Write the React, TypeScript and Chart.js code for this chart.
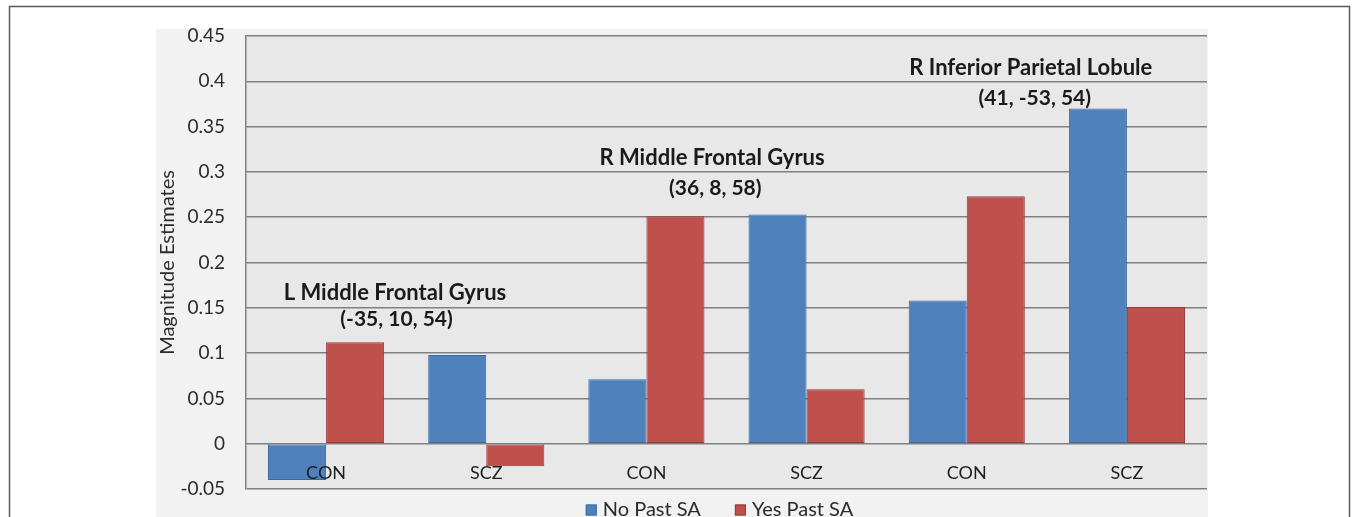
import React, { useEffect, useRef } from "react";
import { Chart, registerables } from "chart.js";

Chart.register(...registerables);

const categories = ["CON", "SCZ", "CON", "SCZ", "CON", "SCZ"];
const seriesNames = ["No Past SA", "Yes Past SA"];
const noPastSA = [-0.04, 0.098, 0.071, 0.253, 0.158, 0.37];
const yesPastSA = [0.112, -0.025, 0.251, 0.06, 0.273, 0.151];
const yTicks = [-0.05, 0, 0.05, 0.1, 0.15, 0.2, 0.25, 0.3, 0.35, 0.4, 0.45];
const yTickLabels = ["-0.05", "0", "0.05", "0.1", "0.15", "0.2", "0.25", "0.3", "0.35", "0.4", "0.45"];
const regionTexts = [
  "L Middle Frontal Gyrus",
  "(-35, 10, 54)",
  "R Middle Frontal Gyrus",
  "(36, 8, 58)",
  "R Inferior Parietal Lobule",
  "(41, -53, 54)",
];
// anchors in data units (category index, magnitude value)
const regionAnchorX = [0.43, 0.44, 2.41, 2.43, 4.4, 4.425];
const regionAnchorY = [0.166, 0.137, 0.315, 0.282, 0.415, 0.381];

const FONT = "Lato, 'Liberation Sans', sans-serif";

const backdrop = {
  id: "backdrop",
  beforeDraw(chart: any) {
    const { ctx, chartArea: a, width, height } = chart;
    ctx.save();
    ctx.fillStyle = "#ffffff";
    ctx.fillRect(0, 0, width, height);
    ctx.strokeStyle = "#5a5a5a";
    ctx.lineWidth = 1.5;
    ctx.strokeRect(9.5, 6.5, 1340, height + 10);
    ctx.fillStyle = "#f2f2f2";
    ctx.fillRect(a.left - 90, a.top - 7, a.right - a.left + 91, height - a.top + 7);
    ctx.fillStyle = "#e8e8e8";
    ctx.fillRect(a.left, a.top, a.right - a.left, a.bottom - a.top);
    ctx.restore();
  },
};

const regionLabels = {
  id: "regionLabels",
  afterDatasetsDraw(chart: any) {
    const { ctx, scales } = chart;
    ctx.save();
    ctx.fillStyle = "#1a1a1a";
    ctx.textAlign = "center";
    ctx.textBaseline = "middle";
    regionTexts.forEach((t, i) => {
      ctx.font = i % 2 === 0 ? `bold 22px ${FONT}` : `bold 21px ${FONT}`;
      const x = scales.x.getPixelForValue(regionAnchorX[i]);
      const y = scales.y.getPixelForValue(regionAnchorY[i]);
      ctx.fillText(t, x, y);
    });
    ctx.restore();
  },
};

const bottomLegend = {
  id: "bottomLegend",
  afterDraw(chart: any) {
    const { ctx, chartArea: a } = chart;
    const ds = chart.data.datasets;
    ctx.save();
    ctx.font = `20px ${FONT}`;
    const box = 11;
    const gap = 6;
    const itemGap = 34;
    const widths = ds.map((d: any) => box + gap + ctx.measureText(d.label).width);
    const total = widths.reduce((s: number, w: number) => s + w, 0) + itemGap * (ds.length - 1);
    let x = (a.left + a.right) / 2 - 7 - total / 2;
    const y = a.bottom + 21;
    ds.forEach((d: any, i: number) => {
      ctx.fillStyle = d.backgroundColor;
      ctx.fillRect(x, y - box / 2, box, box);
      ctx.strokeStyle = d.borderColor;
      ctx.lineWidth = 1;
      ctx.strokeRect(x + 0.5, y - box / 2 + 0.5, box - 1, box - 1);
      ctx.fillStyle = "#2b2b2b";
      ctx.textAlign = "left";
      ctx.textBaseline = "middle";
      ctx.fillText(d.label, x + box + gap, y);
      x += widths[i] + itemGap;
    });
    ctx.restore();
  },
};

export default function App() {
  const canvasRef = useRef<HTMLCanvasElement | null>(null);

  useEffect(() => {
    if (!canvasRef.current) return;
    const chart = new Chart(canvasRef.current, {
      type: "bar",
      data: {
        labels: categories,
        datasets: [
          {
            label: seriesNames[0],
            data: noPastSA,
            backgroundColor: "#4f81bd",
            borderColor: "#3b6a9f",
            borderWidth: 1,
            borderSkipped: false,
          },
          {
            label: seriesNames[1],
            data: yesPastSA,
            backgroundColor: "#c0504d",
            borderColor: "#8f3c3a",
            borderWidth: 1,
            borderSkipped: false,
          },
        ],
      },
      options: {
        animation: false,
        responsive: false,
        maintainAspectRatio: false,
        layout: { padding: { left: 156, right: 150, top: 36, bottom: 28 } },
        datasets: { bar: { categoryPercentage: 0.725, barPercentage: 1 } },
        plugins: { legend: { display: false }, tooltip: { enabled: false } },
        scales: {
          x: {
            type: "category",
            grid: { display: false, drawTicks: false },
            border: { display: false },
            ticks: {
              font: { family: FONT, size: 18 },
              color: "#1e1e1e",
              mirror: true,
              padding: 5,
              z: 1,
              maxRotation: 0,
              autoSkip: false,
            },
            afterFit(scale: any) {
              scale.height = 0;
            },
          },
          y: {
            type: "linear",
            min: -0.05,
            max: 0.45,
            afterBuildTicks(scale: any) {
              scale.ticks = yTicks.map((v) => ({ value: v }));
            },
            afterFit(scale: any) {
              scale.width = 90;
              scale.paddingTop = 0;
              scale.paddingBottom = 0;
            },
            grid: { color: "#808080", lineWidth: 1.5, drawTicks: false },
            border: { display: true, color: "#808080", width: 1.5 },
            ticks: {
              font: { family: FONT, size: 19 },
              color: "#2b2b2b",
              padding: 21,
              callback: (v: any) => {
                const i = yTicks.findIndex((t) => Math.abs(t - Number(v)) < 1e-9);
                return i >= 0 ? yTickLabels[i] : "";
              },
            },
            title: {
              display: true,
              text: "Magnitude Estimates",
              font: { family: FONT, size: 20 },
              color: "#2b2b2b",
              padding: { top: 0, bottom: 0 },
            },
          },
        },
      },
      plugins: [backdrop, regionLabels, bottomLegend],
    });
    return () => chart.destroy();
  }, []);

  return (
    <div style={{ position: "absolute", left: 0, top: 0, width: 1357, height: 517 }}>
      <canvas ref={canvasRef} width={1357} height={517} />
    </div>
  );
}
